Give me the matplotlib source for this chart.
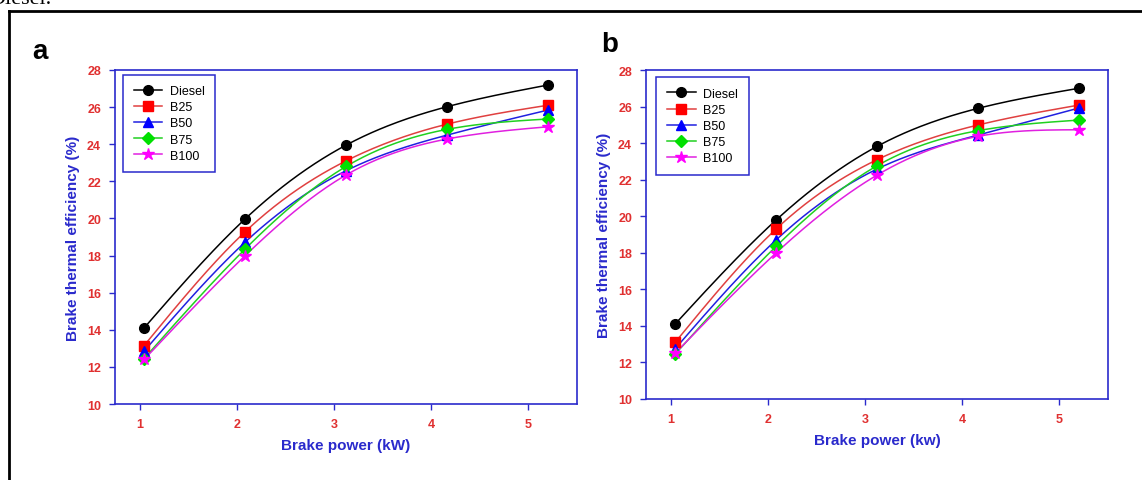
import numpy as np
import matplotlib.pyplot as plt
from matplotlib.lines import Line2D

# Brake power (kW)
potencia = [1.04, 2.08, 3.12, 4.16, 5.2]

# painel a
bte_a_diesel = [14.1, 19.97, 23.95, 26.02, 27.19]
bte_a_b25 = [13.15, 19.28, 23.1, 25.08, 26.1]
bte_a_b50 = [12.85, 18.72, 22.57, 24.49, 25.84]
bte_a_b75 = [12.45, 18.35, 22.8, 24.8, 25.36]
bte_a_b100 = [12.4, 17.99, 22.34, 24.28, 24.94]

# painel b
bte_b_diesel = [14.1, 19.79, 23.82, 25.9, 27.0]
bte_b_b25 = [13.1, 19.3, 23.09, 24.99, 26.08]
bte_b_b50 = [12.75, 18.7, 22.58, 24.44, 25.92]
bte_b_b75 = [12.45, 18.35, 22.76, 24.68, 25.26]
bte_b_b100 = [12.5, 17.99, 22.25, 24.37, 24.73]

nomes = ['Diesel', 'B25', 'B50', 'B75', 'B100']
cores = ['black', '#ff0000', '#0000ff', '#00e000', '#ff00ff']
linhas = ['black', '#e04040', '#2020e0', '#20d020', '#e020e0']
marcadores = ['o', 's', '^', 'D', '*']
tam_marc = [7, 6.5, 7, 6, 9]

AZUL = '#2a2acc'
VERMELHO = '#e03030'


def spline_natural(x, y, n=200):
    # spline cubica natural, so para desenhar a curva suave
    x = np.asarray(x, float)
    y = np.asarray(y, float)
    k = len(x)
    h = np.diff(x)
    A = np.zeros((k, k))
    b = np.zeros(k)
    A[0, 0] = A[-1, -1] = 1
    for i in range(1, k - 1):
        A[i, i - 1] = h[i - 1]
        A[i, i] = 2 * (h[i - 1] + h[i])
        A[i, i + 1] = h[i]
        b[i] = 3 * ((y[i + 1] - y[i]) / h[i] - (y[i] - y[i - 1]) / h[i - 1])
    c = np.linalg.solve(A, b)
    xs = np.linspace(x[0], x[-1], n)
    ys = np.empty_like(xs)
    for j, xv in enumerate(xs):
        i = min(np.searchsorted(x, xv, side='right') - 1, k - 2)
        bb = (y[i + 1] - y[i]) / h[i] - h[i] * (2 * c[i] + c[i + 1]) / 3
        d = (c[i + 1] - c[i]) / (3 * h[i])
        t = xv - x[i]
        ys[j] = y[i] + bb * t + c[i] * t ** 2 + d * t ** 3
    return xs, ys


def desenhar(ax, series, xlabel, ancora):
    for i, serie in enumerate(series):
        xs, ys = spline_natural(potencia, serie)
        ax.plot(xs, ys, color=linhas[i], lw=1.1, zorder=2)
        ax.plot(potencia, serie, linestyle='none', marker=marcadores[i],
                color=cores[i], markersize=tam_marc[i], zorder=3)
    handles = [Line2D([0], [0], color=linhas[i], lw=1.1, marker=marcadores[i],
                      markerfacecolor=cores[i], markeredgecolor=cores[i],
                      markersize=tam_marc[i]) for i in range(5)]
    leg = ax.legend(handles, nomes, loc='upper left', fancybox=False,
                    framealpha=1, borderpad=0.85, handlelength=2.3,
                    labelspacing=0.33, handletextpad=0.6,
                    bbox_to_anchor=ancora,
                    prop={'family': 'Liberation Sans', 'size': 9})
    leg.get_frame().set_edgecolor(AZUL)
    leg.get_frame().set_linewidth(1.1)

    ax.set_xlim(0.74, 5.5)
    ax.set_ylim(10, 28)
    ax.set_xticks([1, 2, 3, 4, 5])
    ax.set_yticks(range(10, 29, 2))
    for s in ax.spines.values():
        s.set_color(AZUL)
        s.set_linewidth(1.2)
    ax.tick_params(direction='out', length=4, width=1, color=AZUL,
                   labelcolor=VERMELHO, labelsize=9, pad=6)
    for t in ax.get_xticklabels() + ax.get_yticklabels():
        t.set_fontweight('bold')
        t.set_family('Liberation Sans')
    ax.set_xlabel(xlabel, color=AZUL, fontsize=11, fontweight='bold',
                  family='Liberation Sans', labelpad=6)
    ax.set_ylabel('Brake thermal efficiency (%)', color=AZUL, fontsize=11,
                  fontweight='bold', family='Liberation Sans', labelpad=5)


W, H = 1142, 481
fig = plt.figure(figsize=(W / 100, H / 100), dpi=100)

ax1 = fig.add_axes([115 / W, 1 - 405 / H, 462 / W, 334 / H])
ax2 = fig.add_axes([646 / W, 1 - 400 / H, 462 / W, 329 / H])

desenhar(ax1, [bte_a_diesel, bte_a_b25, bte_a_b50, bte_a_b75, bte_a_b100],
         'Brake power (kW)', (0.004, 1.005))
desenhar(ax2, [bte_b_diesel, bte_b_b25, bte_b_b50, bte_b_b75, bte_b_b100],
         'Brake power (kw)', (0.009, 0.997))

fig.text(40 / W, 1 - 52 / H, 'a', fontsize=20, fontweight='bold',
         family='Liberation Sans', va='center', ha='center')
fig.text(610 / W, 1 - 45 / H, 'b', fontsize=20, fontweight='bold',
         family='Liberation Sans', va='center', ha='center')

# moldura preta e resto do texto cortado em cima
fig.add_artist(Line2D([9 / W, 9 / W], [0, 1 - 12 / H], color='black',
                      lw=2, transform=fig.transFigure))
fig.add_artist(Line2D([9 / W, 1], [1 - 12 / H, 1 - 12 / H], color='black',
                      lw=2, transform=fig.transFigure))
fig.text(-11 / W, 1 - 4 / H, 'Diesel.', fontsize=16, family='Liberation Serif',
         va='baseline')

fig.savefig('out.png', dpi=100)
